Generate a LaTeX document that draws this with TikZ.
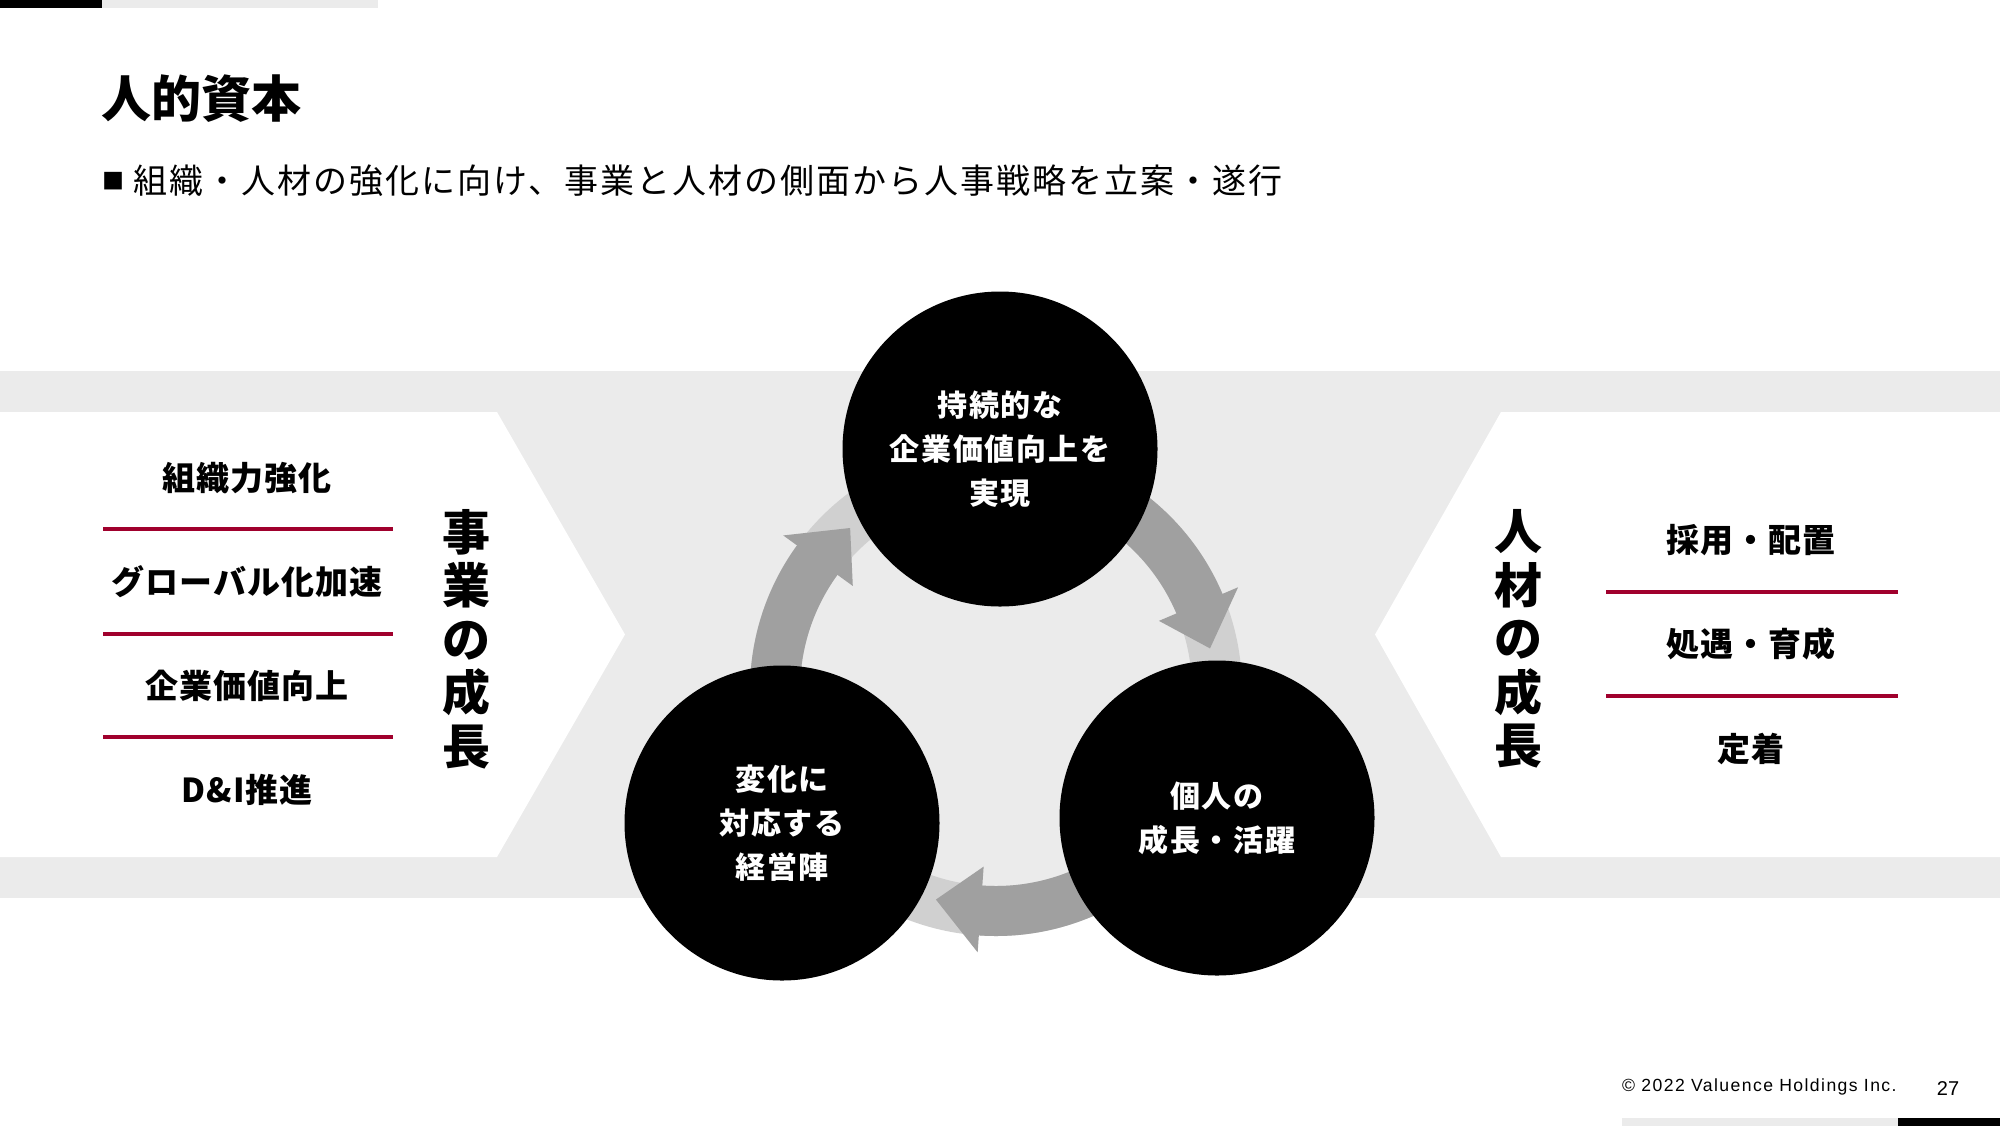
\documentclass[tikz,border=0pt]{standalone}
\usepackage{fontspec}
\setmainfont{Noto Sans CJK JP}
\newfontfamily\jpfont{Noto Sans CJK JP}
\newfontfamily\latfont{Liberation Sans}
\usetikzlibrary{calc}
\definecolor{bandgray}{HTML}{EBEBEB}
\definecolor{ringlight}{HTML}{D0D0D0}
\definecolor{ringdark}{HTML}{A0A0A0}
\definecolor{accent}{HTML}{A0002D}
\newcommand{\rpt}[2]{({996+(#2)*cos(#1)},{690-(#2)*sin(#1)})}
\begin{document}
\begin{tikzpicture}[x=0.5pt,y=-0.5pt,
  bigcirc/.style={circle,fill=black,text=white,minimum size=157.5pt,inner sep=0pt,align=center,
    font=\jpfont\bfseries\fontsize{15pt}{22pt}\selectfont\addfontfeatures{LetterSpace=6}},
  listitem/.style={inner sep=0pt,font=\jpfont\bfseries\fontsize{16.5pt}{20pt}\selectfont\addfontfeatures{LetterSpace=3}},
  vlabel/.style={inner sep=0pt,align=center,font=\jpfont\bfseries\fontsize{24pt}{26.75pt}\selectfont},
  redline/.style={draw=accent,line width=1.8pt},
  ringarc/.style={draw=ringdark,line width=25pt},
  ringhead/.style={fill=ringdark}]
\useasboundingbox (0,0) rectangle (2000,1126);
\fill[white] (0,0) rectangle (2000,1126);
% top and bottom bars
\fill[black] (0,0) rectangle (102,8);
\fill[bandgray] (102,0) rectangle (378,8);
\fill[bandgray] (1622,1118) rectangle (1898,1126);
\fill[black] (1898,1118) rectangle (2000,1126);
% band
\fill[bandgray] (0,371) rectangle (2000,898);
\fill[white] (0,412) -- (497,412) -- (625,634.5) -- (497,857) -- (0,857) -- cycle;
\fill[white] (2000,412) -- (1501,412) -- (1375,634.5) -- (1501,857) -- (2000,857) -- cycle;
% ring
\draw[ringlight,line width=25pt] (996,690) circle[radius=110.5pt];
% dark arrows
\draw[ringarc] plot[domain=200:143,samples=50] ({996+221*cos(\x)},{690-221*sin(\x)});
\fill[ringhead] \rpt{144}{177} -- \rpt{144}{263} -- \rpt{132}{218} -- cycle;
\draw[ringarc] plot[domain=75:22,samples=50] ({996+221*cos(\x)},{690-221*sin(\x)});
\fill[ringhead] \rpt{23}{177} -- \rpt{23}{263} -- \rpt{11}{218} -- cycle;
\draw[ringarc] plot[domain=-45:-95,samples=50] ({996+221*cos(\x)},{690-221*sin(\x)});
\fill[ringhead] \rpt{-94}{177} -- \rpt{-94}{263} -- \rpt{-106}{218} -- cycle;
% circles
\node[bigcirc] (ctop) at (1000,449) {持続的な\\企業価値向上を\\実現};
\node[bigcirc] (cleft) at (782,823) {変化に\\対応する\\経営陣};
\node[bigcirc] (cright) at (1217,818) {個人の\\成長・活躍};
% title
\node[anchor=west,inner sep=0pt,font=\jpfont\bfseries\fontsize{25pt}{29pt}\selectfont] (title) at (101,99) {人的資本};
\node[inner sep=0pt,font=\jpfont\fontsize{11pt}{12pt}\selectfont] (bullet) at (113,181) {■};
\node[anchor=west,inner sep=0pt,font=\jpfont\fontsize{17pt}{20pt}\selectfont\addfontfeatures{LetterSpace=6}] (sub) at (133,181) {組織・人材の強化に向け、事業と人材の側面から人事戦略を立案・遂行};
% left list
\node[listitem] (l1) at (247,478) {組織力強化};
\node[listitem] (l2) at (247,582) {グローバル化加速};
\node[listitem] (l3) at (247,686) {企業価値向上};
\node[listitem] (l4) at (247,790) {D\&I推進};
\draw[redline] (103,529) -- (393,529);
\draw[redline] (103,634) -- (393,634);
\draw[redline] (103,737) -- (393,737);
\node[vlabel] (vleft) at (466,639) {事\\業\\の\\成\\長};
% right list
\node[vlabel] (vright) at (1518,639) {人\\材\\の\\成\\長};
\node[listitem] (r1) at (1751,540) {採用・配置};
\node[listitem] (r2) at (1751,644) {処遇・育成};
\node[listitem] (r3) at (1751,749) {定着};
\draw[redline] (1606,592) -- (1898,592);
\draw[redline] (1606,696) -- (1898,696);
% footer
\node[anchor=east,inner sep=0pt,font=\latfont\fontsize{8.8pt}{10pt}\selectfont\addfontfeatures{LetterSpace=8}] (copy) at (1897,1087) {© 2022 Valuence Holdings Inc.};
\node[inner sep=0pt,font=\latfont\fontsize{10pt}{12pt}\selectfont] (page) at (1948,1088) {27};
\end{tikzpicture}
\end{document}
